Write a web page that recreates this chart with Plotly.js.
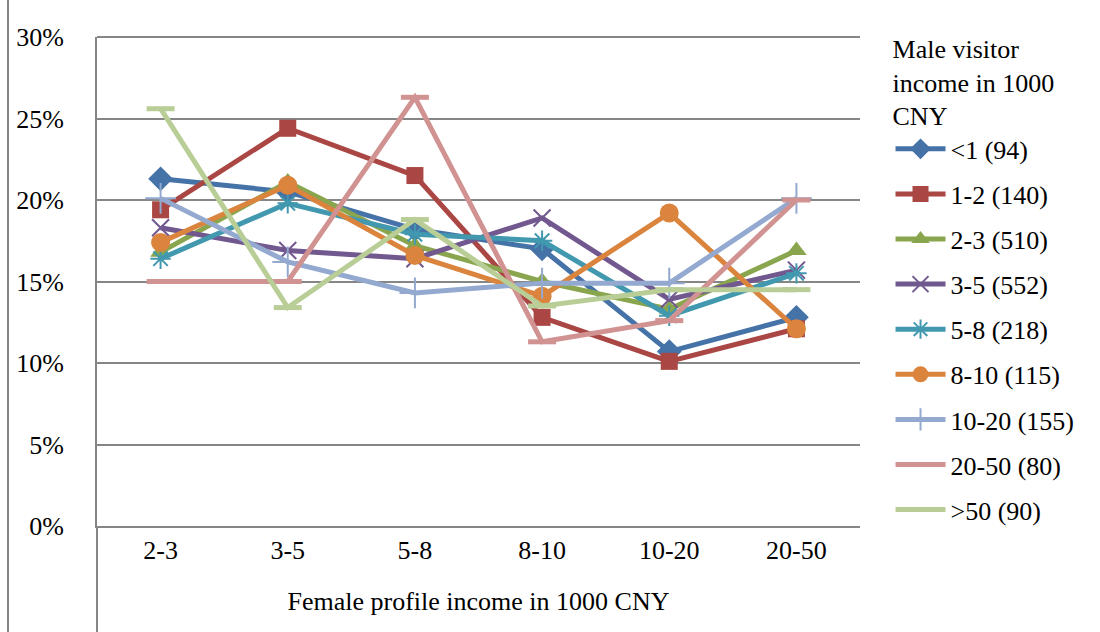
<!DOCTYPE html>
<html>
<head>
<meta charset="utf-8">
<script src="https://cdn.plot.ly/plotly-3.0.1.min.js"></script>
<style>html,body{margin:0;padding:0;background:#fff;}#chart{width:1100px;height:632px;}</style>
</head>
<body>
<div id="chart"></div>
<script>
var categories = ["2-3", "3-5", "5-8", "8-10", "10-20", "20-50"];
var seriesNames = ["<1 (94)", "1-2 (140)", "2-3 (510)", "3-5 (552)", "5-8 (218)", "8-10 (115)", "10-20 (155)", "20-50 (80)", ">50 (90)"];
var lt1   = [21.3, 20.5, 18.2, 17.0, 10.7, 12.8];
var s1_2  = [19.4, 24.4, 21.5, 12.8, 10.1, 12.1];
var s2_3  = [16.8, 21.1, 17.2, 15.0, 13.3, 16.9];
var s3_5  = [18.3, 16.9, 16.4, 18.9, 13.9, 15.7];
var s5_8  = [16.4, 19.8, 17.9, 17.5, 12.9, 15.5];
var s8_10 = [17.4, 20.9, 16.6, 14.1, 19.2, 12.1];
var s10_20 = [20.1, 16.2, 14.3, 14.9, 14.9, 20.1];
var s20_50 = [15.0, 15.0, 26.3, 11.3, 12.6, 20.0];
var gt50  = [25.6, 13.4, 18.8, 13.5, 14.5, 14.5];
var yTickVals = [0, 5, 10, 15, 20, 25, 30];
var yTickText = ["0%", "5%", "10%", "15%", "20%", "25%", "30%"];

var allValues = [lt1, s1_2, s2_3, s3_5, s5_8, s8_10, s10_20, s20_50, gt50];
var colors = ["#4572A7", "#AA4643", "#89A54E", "#71588F", "#4198AF", "#DB843D", "#93A9CF", "#D19392", "#B9CD96"];
var symbols = ["diamond", "square", "triangle-up", "x-thin-open", "asterisk-open", "circle", "cross-thin-open", "line-ew-open", "line-ew-open"];
var sizes = [19, 17, 18, 17, 17, 19, 22, 20, 20];

var traces = allValues.map(function (vals, i) {
  var open = symbols[i].indexOf("open") >= 0;
  return {
    type: "scatter",
    mode: "lines+markers",
    x: categories,
    y: vals,
    name: seriesNames[i],
    legendgroup: "g" + i,
    line: {color: colors[i], width: 5},
    marker: {
      symbol: symbols[i],
      size: sizes[i],
      color: colors[i],
      line: {color: colors[i], width: open ? (i >= 7 ? 5 : 2) : 0}
    },
    hoverinfo: "x+y+name"
  };
});

var FONT = "Liberation Serif, Times New Roman, serif";

var layout = {
  width: 1100,
  height: 632,
  margin: {l: 97, r: 240, t: 37, b: 106, autoexpand: false},
  paper_bgcolor: "#fff",
  plot_bgcolor: "#fff",
  font: {family: FONT, size: 26, color: "#000"},
  showlegend: true,
  legend: {
    x: 1.04, xanchor: "left",
    yref: "container",
    y: 1 - 24 / 632, yanchor: "top",
    traceorder: "grouped",
    tracegroupgap: 8.3,
    maxheight: 620,
    itemwidth: 50,
    font: {family: FONT, size: 26, color: "#000"},
    title: {text: "Male visitor<br>income in 1000<br>CNY", side: "top", font: {family: FONT, size: 26}},
    bgcolor: "rgba(0,0,0,0)"
  },
  xaxis: {
    type: "category",
    categoryorder: "array",
    categoryarray: categories,
    range: [-0.5, 5.5],
    showgrid: false,
    showline: true,
    linecolor: "#868686",
    linewidth: 2,
    ticks: "",
    ticklabelstandoff: 0,
    tickfont: {family: FONT, size: 26},
    title: {text: "Female profile income in 1000 CNY", font: {family: FONT, size: 26}, standoff: 28},
    zeroline: false,
    automargin: false,
    fixedrange: true
  },
  yaxis: {
    range: [0, 30],
    tickvals: yTickVals,
    ticktext: yTickText,
    showgrid: true,
    gridcolor: "#868686",
    gridwidth: 2,
    showline: true,
    linecolor: "#868686",
    linewidth: 2,
    ticks: "",
    ticklabelstandoff: 26,
    tickfont: {family: FONT, size: 26},
    zeroline: false,
    automargin: false,
    fixedrange: true
  },
  shapes: [
    {type: "line", xref: "paper", yref: "paper", x0: 0, x1: 1, y0: 1, y1: 1, layer: "below", line: {color: "#868686", width: 2}},
    {type: "line", xref: "paper", yref: "paper", x0: 0, x1: 0, y0: 0, y1: -106 / 489, line: {color: "#868686", width: 2}},
    {type: "line", xref: "paper", yref: "paper", x0: -89 / 763, x1: -89 / 763, y0: 1 + 37 / 489, y1: -106 / 489, line: {color: "#868686", width: 2}}
  ]
};

Plotly.newPlot("chart", traces, layout, {displayModeBar: false, staticPlot: true});
</script>
</body>
</html>
